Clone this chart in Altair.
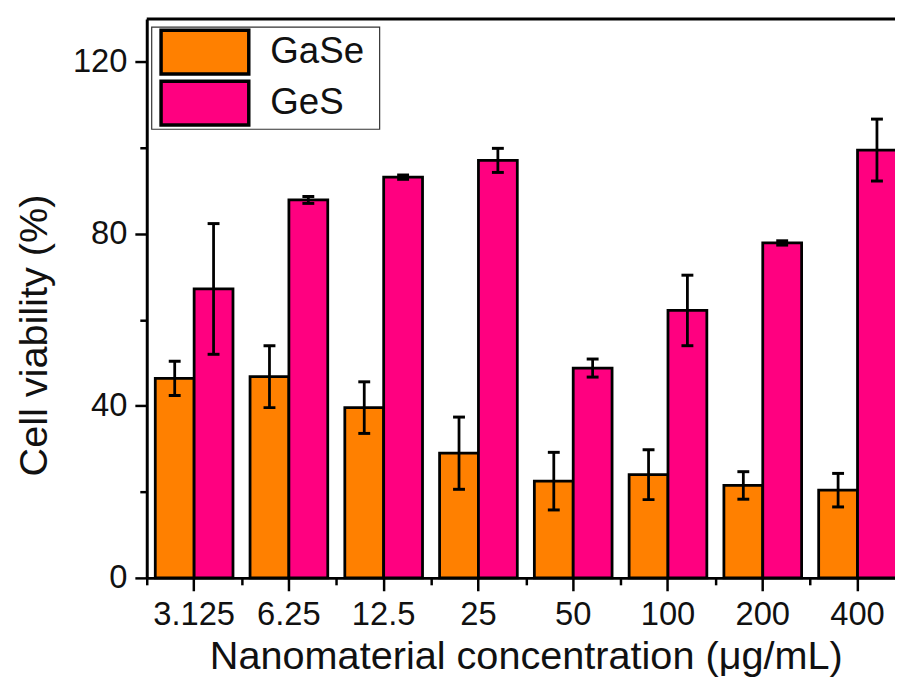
import altair as alt
import pandas as pd

# ---- data ----
concentrations = ["3.125", "6.25", "12.5", "25", "50", "100", "200", "400"]
materials = ["GaSe", "GeS"]
gase_mean = [46.4, 46.8, 39.6, 29.0, 22.5, 24.0, 21.5, 20.4]
gase_err = [4.0, 7.2, 6.0, 8.4, 6.7, 5.8, 3.2, 3.9]
ges_mean = [67.2, 87.9, 93.2, 97.1, 48.8, 62.2, 77.9, 99.5]
ges_err = [15.2, 0.8, 0.5, 2.8, 2.1, 8.2, 0.5, 7.2]
colors = ["#FF8000", "#FF0080"]
y_major = [0, 40, 80, 120]
y_minor = [20, 60, 100]

rows = []
for m, means, errs in [("GaSe", gase_mean, gase_err), ("GeS", ges_mean, ges_err)]:
    for c, v, e in zip(concentrations, means, errs):
        rows.append({"conc": c, "material": m, "viability": v, "lo": v - e, "hi": v + e})
df = pd.DataFrame(rows)

FONT = "Liberation Sans"
W_PLOT = 755
H_PLOT = 564
X_RANGE = 765
STEP = X_RANGE / len(concentrations)

x_scale = alt.Scale(domain=concentrations, range=[0, X_RANGE], paddingInner=0.18, paddingOuter=0.09)
xoff_scale = alt.Scale(domain=materials, paddingInner=0, paddingOuter=0)
y_scale = alt.Scale(domain=[0, 130], nice=False, zero=True)

base = alt.Chart(df)

bars = base.mark_bar(stroke="black", strokeWidth=2.8).encode(
    x=alt.X(
        "conc:N",
        scale=x_scale,
        axis=alt.Axis(
            orient="bottom",
            title="Nanomaterial concentration (\u03bcg/mL)",
            labelAngle=0,
            tickSize=13,
            tickWidth=2.5,
            tickColor="black",
            domainWidth=3,
            domainColor="black",
            labelFont=FONT,
            labelFontSize=33,
            labelColor="#111",
            labelPadding=8,
            titleFont=FONT,
            titleFontSize=40,
            titleFontWeight="normal",
            titleColor="#111",
            titleBaseline="alphabetic",
            titleY=91,
            grid=False,
        ),
    ),
    xOffset=alt.XOffset("material:N", scale=xoff_scale),
    y=alt.Y(
        "viability:Q",
        scale=y_scale,
        axis=alt.Axis(
            orient="left",
            values=y_major,
            title="Cell viability (%)",
            tickSize=12,
            tickWidth=2.5,
            tickColor="black",
            domainWidth=3,
            domainColor="black",
            labelFont=FONT,
            labelFontSize=33,
            labelColor="#111",
            labelPadding=8,
            titleFont=FONT,
            titleFontSize=40,
            titleFontWeight="normal",
            titleColor="#111",
            titleAngle=270,
            titleBaseline="alphabetic",
            titleX=-101,
            titleY=319,
            grid=False,
        ),
    ),
    color=alt.Color(
        "material:N",
        scale=alt.Scale(domain=materials, range=colors),
        legend=alt.Legend(
            orient="none",
            legendX=4.7,
            legendY=8,
            title="\u00a0",
            titleOrient="right",
            titleFontSize=10,
            titlePadding=14,
            symbolType="M-1,-0.5H1V0.5H-1Z",
            symbolSize=7832,
            symbolStrokeColor="black",
            symbolStrokeWidth=3.5,
            symbolOpacity=1,
            symbolOffset=7,
            labelOffset=20,
            labelFont=FONT,
            labelFontSize=37,
            labelColor="#111",
            clipHeight=49,
            rowPadding=2.4,
            padding=1,
            strokeColor="#333",
        ),
    ),
)

rules = base.mark_rule(color="black", strokeWidth=2.8).encode(
    x=alt.X(
        "conc:N",
        scale=x_scale,
        axis=alt.Axis(
            orient="bottom",
            labels=False,
            title=None,
            domain=False,
            tickSize=7,
            tickWidth=2.5,
            tickColor="black",
            tickOffset=-STEP / 2,
            grid=False,
        ),
    ),
    xOffset=alt.XOffset("material:N", scale=xoff_scale),
    y=alt.Y(
        "lo:Q",
        scale=y_scale,
        axis=alt.Axis(
            orient="left",
            values=y_minor,
            labels=False,
            title=None,
            domain=False,
            tickSize=7,
            tickWidth=2.5,
            tickColor="black",
            grid=False,
        ),
    ),
    y2="hi:Q",
)

caps = base.transform_fold(["lo", "hi"], as_=["end", "val"]).mark_tick(
    color="black", thickness=3, size=12, opacity=1
).encode(
    x=alt.X("conc:N", scale=x_scale, axis=None),
    xOffset=alt.XOffset("material:N", scale=xoff_scale),
    y=alt.Y("val:Q", scale=y_scale, axis=None),
)

border = alt.Chart(pd.DataFrame({"k": [0]})).mark_rule(color="black", strokeWidth=3).encode(
    x=alt.value(0), x2=alt.value(X_RANGE + 20), y=alt.value(0)
)

chart = (
    alt.layer(bars, rules, caps, border)
    .resolve_axis(x="independent", y="independent")
    .properties(
        width=W_PLOT,
        height=H_PLOT,
        autosize=alt.AutoSizeParams(type="none"),
        padding={"left": 140, "top": 8, "right": 0, "bottom": 99},
        background="white",
    )
    .configure_view(strokeWidth=0)
    .configure_legend(strokeWidth=1.2)
)

chart.save("out.html", embed_options={"renderer": "svg", "actions": False})
